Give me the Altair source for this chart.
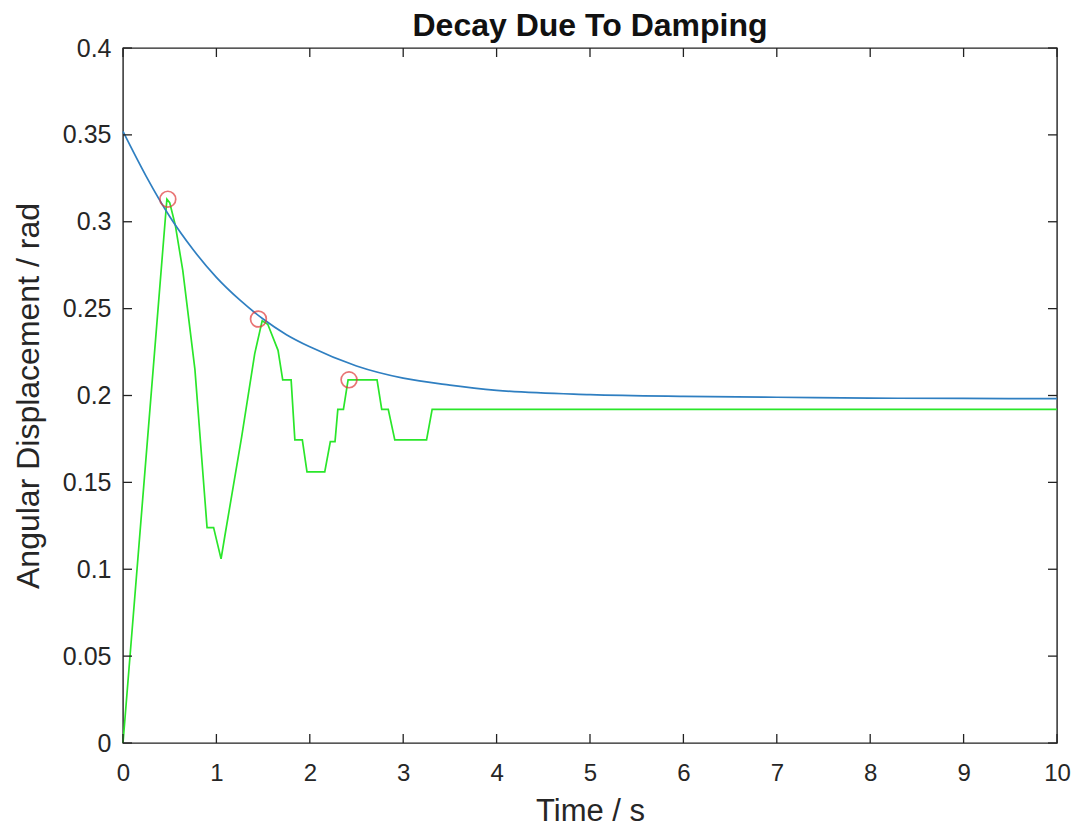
import altair as alt
import pandas as pd

# Blue envelope curve
blue_t = [0, 0.25, 0.5, 0.75, 1.0, 1.25, 1.5, 1.75, 2.0, 2.5, 3.0, 3.5, 4.0, 5.0, 6.0, 7.0, 8.0, 9.0, 10.0]
blue_v = [0.352, 0.326, 0.303, 0.284, 0.268, 0.255, 0.244, 0.235, 0.228, 0.217, 0.210, 0.206, 0.203, 0.2005, 0.1995, 0.199, 0.1985, 0.1983, 0.1982]

green_t = [0, 0.47, 0.50, 0.56, 0.64, 0.77, 0.88, 0.90, 0.97, 1.05, 1.09, 1.27, 1.41, 1.49, 1.55, 1.66, 1.71, 1.80,
           1.84, 1.92, 1.97, 2.16, 2.22, 2.27, 2.30, 2.36, 2.41, 2.72, 2.77, 2.84, 2.91, 3.25, 3.31, 10.0]
green_v = [0, 0.313, 0.311, 0.298, 0.272, 0.215, 0.138, 0.124, 0.124, 0.106, 0.119, 0.176, 0.224, 0.243, 0.241, 0.226, 0.209, 0.209,
           0.1745, 0.1745, 0.156, 0.156, 0.1735, 0.1735, 0.192, 0.192, 0.209, 0.209, 0.192, 0.192, 0.1745, 0.1745, 0.192, 0.192]

# Peak markers
peak_t = [0.48, 1.45, 2.42]
peak_v = [0.313, 0.244, 0.209]

x_ticks = [0, 1, 2, 3, 4, 5, 6, 7, 8, 9, 10]
y_ticks = [0, 0.05, 0.1, 0.15, 0.2, 0.25, 0.3, 0.35, 0.4]

W, H = 934, 695
FONT = "Liberation Sans"
TXT = "#262626"

blue_df = pd.DataFrame({"t": blue_t, "v": blue_v, "i": range(len(blue_t))})
green_df = pd.DataFrame({"t": green_t, "v": green_v, "i": range(len(green_t))})
peak_df = pd.DataFrame({"t": peak_t, "v": peak_v})
xt_df = pd.DataFrame({"t": x_ticks})
yt_df = pd.DataFrame({"v": y_ticks})

xs = alt.Scale(domain=[0, 10], nice=False, zero=False)
ys = alt.Scale(domain=[0, 0.4], nice=False, zero=False)

xaxis = alt.Axis(values=x_ticks, title="Time / s", grid=False, domain=False, ticks=False, format="d",
                 labelFlush=False, labelFontSize=24, labelColor=TXT, labelFont=FONT, labelPadding=18,
                 titleFontSize=31, titleFont=FONT, titleColor=TXT, titleFontWeight="normal", titlePadding=11)
yaxis = alt.Axis(values=y_ticks, title="Angular Displacement / rad", grid=False, domain=False, ticks=False,
                 labelFlush=False, format=".2~f", labelFontSize=25, labelColor=TXT, labelFont=FONT, labelPadding=12,
                 titleFontSize=32, titleFont=FONT, titleColor=TXT, titleFontWeight="normal", titlePadding=17)

green = alt.Chart(green_df).mark_line(color="#2ae62a", strokeWidth=1.7).encode(
    x=alt.X("t:Q", scale=xs, axis=xaxis),
    y=alt.Y("v:Q", scale=ys, axis=yaxis),
    order="i:Q",
)
blue = alt.Chart(blue_df).mark_line(color="#2f7fc1", strokeWidth=1.7, interpolate="monotone").encode(
    x=alt.X("t:Q", scale=xs), y=alt.Y("v:Q", scale=ys), order="i:Q"
)
peaks = alt.Chart(peak_df).mark_point(shape="circle", filled=False, color="#e03a3a", size=250, strokeWidth=1.7).encode(
    x=alt.X("t:Q", scale=xs), y=alt.Y("v:Q", scale=ys)
)

tk = 9
xt_bot = alt.Chart(xt_df).mark_rule(color="#222222", strokeWidth=1.3).encode(
    x=alt.X("t:Q", scale=xs), y=alt.value(H), y2=alt.value(H - tk))
xt_top = alt.Chart(xt_df).mark_rule(color="#222222", strokeWidth=1.3).encode(
    x=alt.X("t:Q", scale=xs), y=alt.value(0), y2=alt.value(tk))
yt_left = alt.Chart(yt_df).mark_rule(color="#222222", strokeWidth=1.3).encode(
    y=alt.Y("v:Q", scale=ys), x=alt.value(0), x2=alt.value(tk))
yt_right = alt.Chart(yt_df).mark_rule(color="#222222", strokeWidth=1.3).encode(
    y=alt.Y("v:Q", scale=ys), x=alt.value(W), x2=alt.value(W - tk))

chart = alt.layer(green, blue, peaks, xt_bot, xt_top, yt_left, yt_right).properties(
    width=W, height=H,
    title=alt.TitleParams("Decay Due To Damping", fontSize=32, font=FONT, fontWeight="bold",
                          color="#111111", anchor="middle", offset=8, dy=15),
    autosize=alt.AutoSizeParams(type="none"),
    padding={"left": 123, "top": 48, "right": 21, "bottom": 90},
    background="white",
).configure_view(stroke="#222222", strokeWidth=1.4)

chart.save("out.html", embed_options={"renderer": "svg", "actions": False})
